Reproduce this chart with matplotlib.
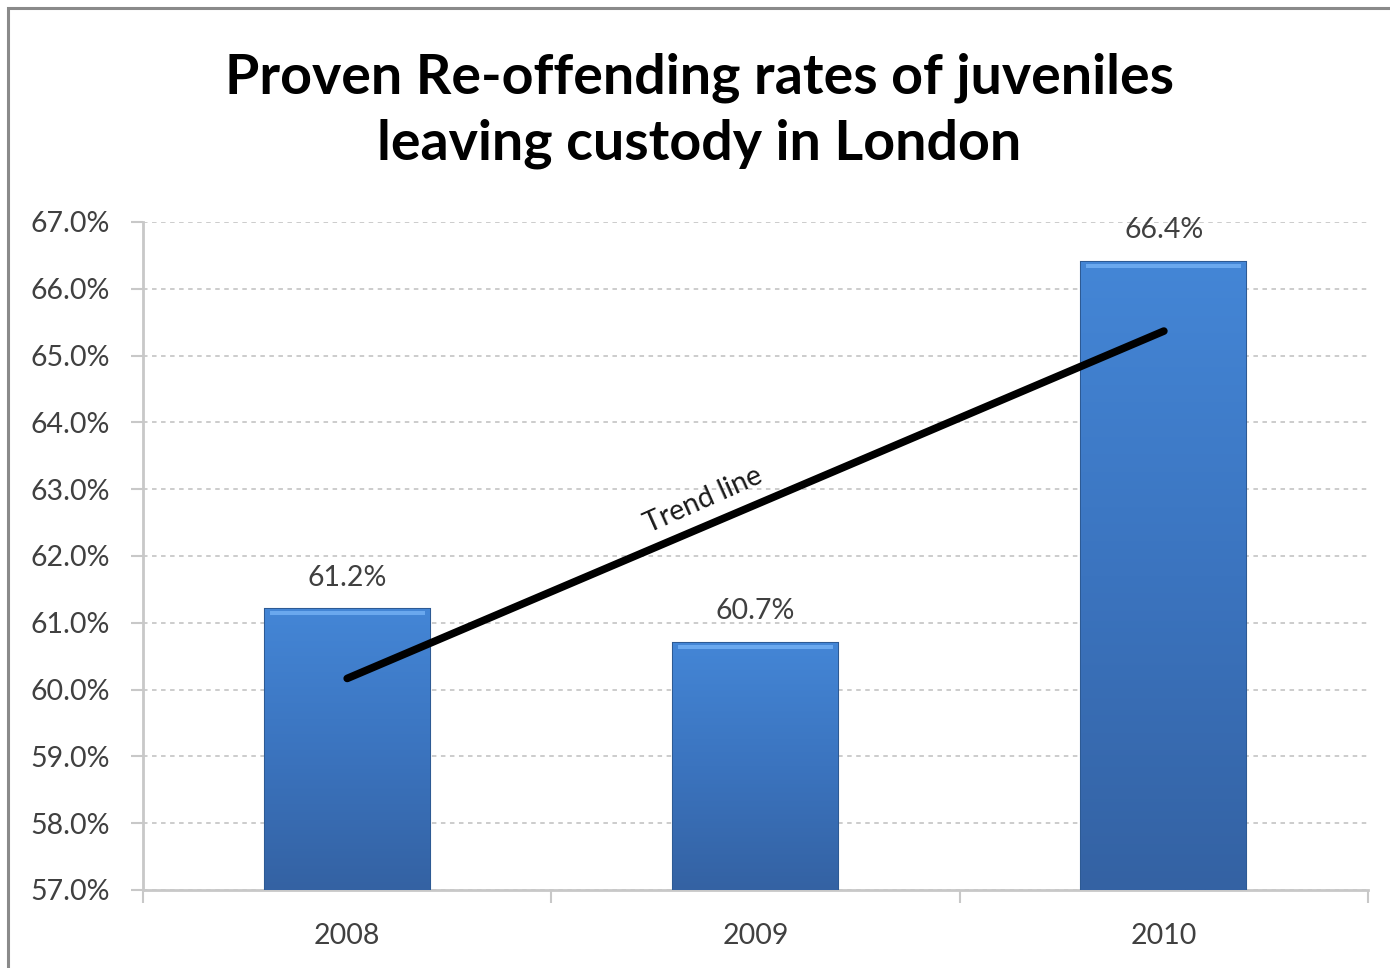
import numpy as np
import matplotlib.pyplot as plt
from matplotlib.patches import Rectangle
from matplotlib.ticker import FixedLocator, FuncFormatter

# --- datos ---
years = ['2008', '2009', '2010']
rates = [61.2, 60.7, 66.4]
y_ticks = [57, 58, 59, 60, 61, 62, 63, 64, 65, 66, 67]
y_base = 57

title = 'Proven Re-offending rates of juveniles\nleaving custody in London'

plt.rcParams['font.family'] = ['Lato', 'DejaVu Sans']

fig = plt.figure(figsize=(13.9, 9.68), dpi=100)
ax = fig.add_axes([0.1029, 0.0806, 0.8813, 0.6901])

# marco exterior (solo se ve arriba e izquierda)
fig.patches.append(Rectangle((8 / 1390, -0.05), 1.1, 1 - 8 / 968 + 0.05,
                             transform=fig.transFigure, fill=False,
                             edgecolor='#8a8a8a', linewidth=2.2, zorder=0))

x = np.arange(len(years))
width = 0.404

# barras con degradado
grad = np.linspace(0, 1, 256).reshape(-1, 1)
cmap = plt.matplotlib.colors.LinearSegmentedColormap.from_list(
    'bar', ['#3462a3', '#3b74bf', '#4486d6'])
heights = [r - y_base for r in rates]
bars = ax.bar(x, heights, width=width, bottom=y_base, color='#3e7bc8',
              edgecolor='#2d5a94', linewidth=1.5, zorder=3)
for b, r in zip(bars, rates):
    x0, y0 = b.get_x(), b.get_y()
    w, h = b.get_width(), b.get_height()
    im = ax.imshow(grad, extent=[x0, x0 + w, y0, y0 + h], origin='lower',
                   cmap=cmap, aspect='auto', zorder=3.5)
    im.set_clip_path(b)
    # brillo superior
    ax.add_patch(Rectangle((x0 + w * 0.03, y0 + h - 0.09), w * 0.94, 0.06,
                           facecolor='#6aa8ee', edgecolor='none', zorder=3.6))
    ax.text(x0 + w / 2, y0 + h + 0.28, f'{r:.1f}%',
            ha='center', va='bottom', fontsize=20.5, color='#404040', zorder=5)

# linea de tendencia (ajuste lineal)
coef = np.polyfit(x, rates, 1)
trend = np.polyval(coef, x)
ax.plot([x[0], x[-1]], [trend[0], trend[-1]], color='black', linewidth=5.5,
        solid_capstyle='round', zorder=6)

ax.text(0.872, 62.84, 'Trend line', rotation=24, ha='center', va='center',
        fontsize=20.5, color='#1a1a1a', zorder=6, rotation_mode='anchor')

# ejes
ax.set_xlim(-0.5, 2.5)
ax.set_ylim(57, 67)
ax.set_yticks(y_ticks)
ax.yaxis.set_major_formatter(FuncFormatter(lambda v, p: f'{v:.1f}%'))
ax.set_xticks(x)
ax.set_xticklabels(years)
ax.xaxis.set_minor_locator(FixedLocator([-0.5, 0.5, 1.5, 2.5]))
ax.tick_params(axis='x', which='major', length=0, pad=24, labelsize=20.5,
               labelcolor='#404040')
ax.tick_params(axis='x', which='minor', length=9, width=1.5, color='#c8c8c8')
ax.tick_params(axis='y', length=9, width=1.5, color='#c8c8c8', pad=15,
               labelsize=20.5, labelcolor='#404040')

ax.grid(axis='y', color='#c8c8c8', linestyle=(0, (2.5, 2.5)), linewidth=1.3,
        zorder=1)
ax.set_axisbelow(True)
for s in ['top', 'right']:
    ax.spines[s].set_visible(False)
for s in ['left', 'bottom']:
    ax.spines[s].set_color('#c8c8c8')
    ax.spines[s].set_linewidth(2)

fig.text(0.503, 0.886, title, ha='center', va='center', fontsize=40,
         fontweight='bold', color='black', linespacing=1.38)

fig.savefig('out.png', dpi=100)
